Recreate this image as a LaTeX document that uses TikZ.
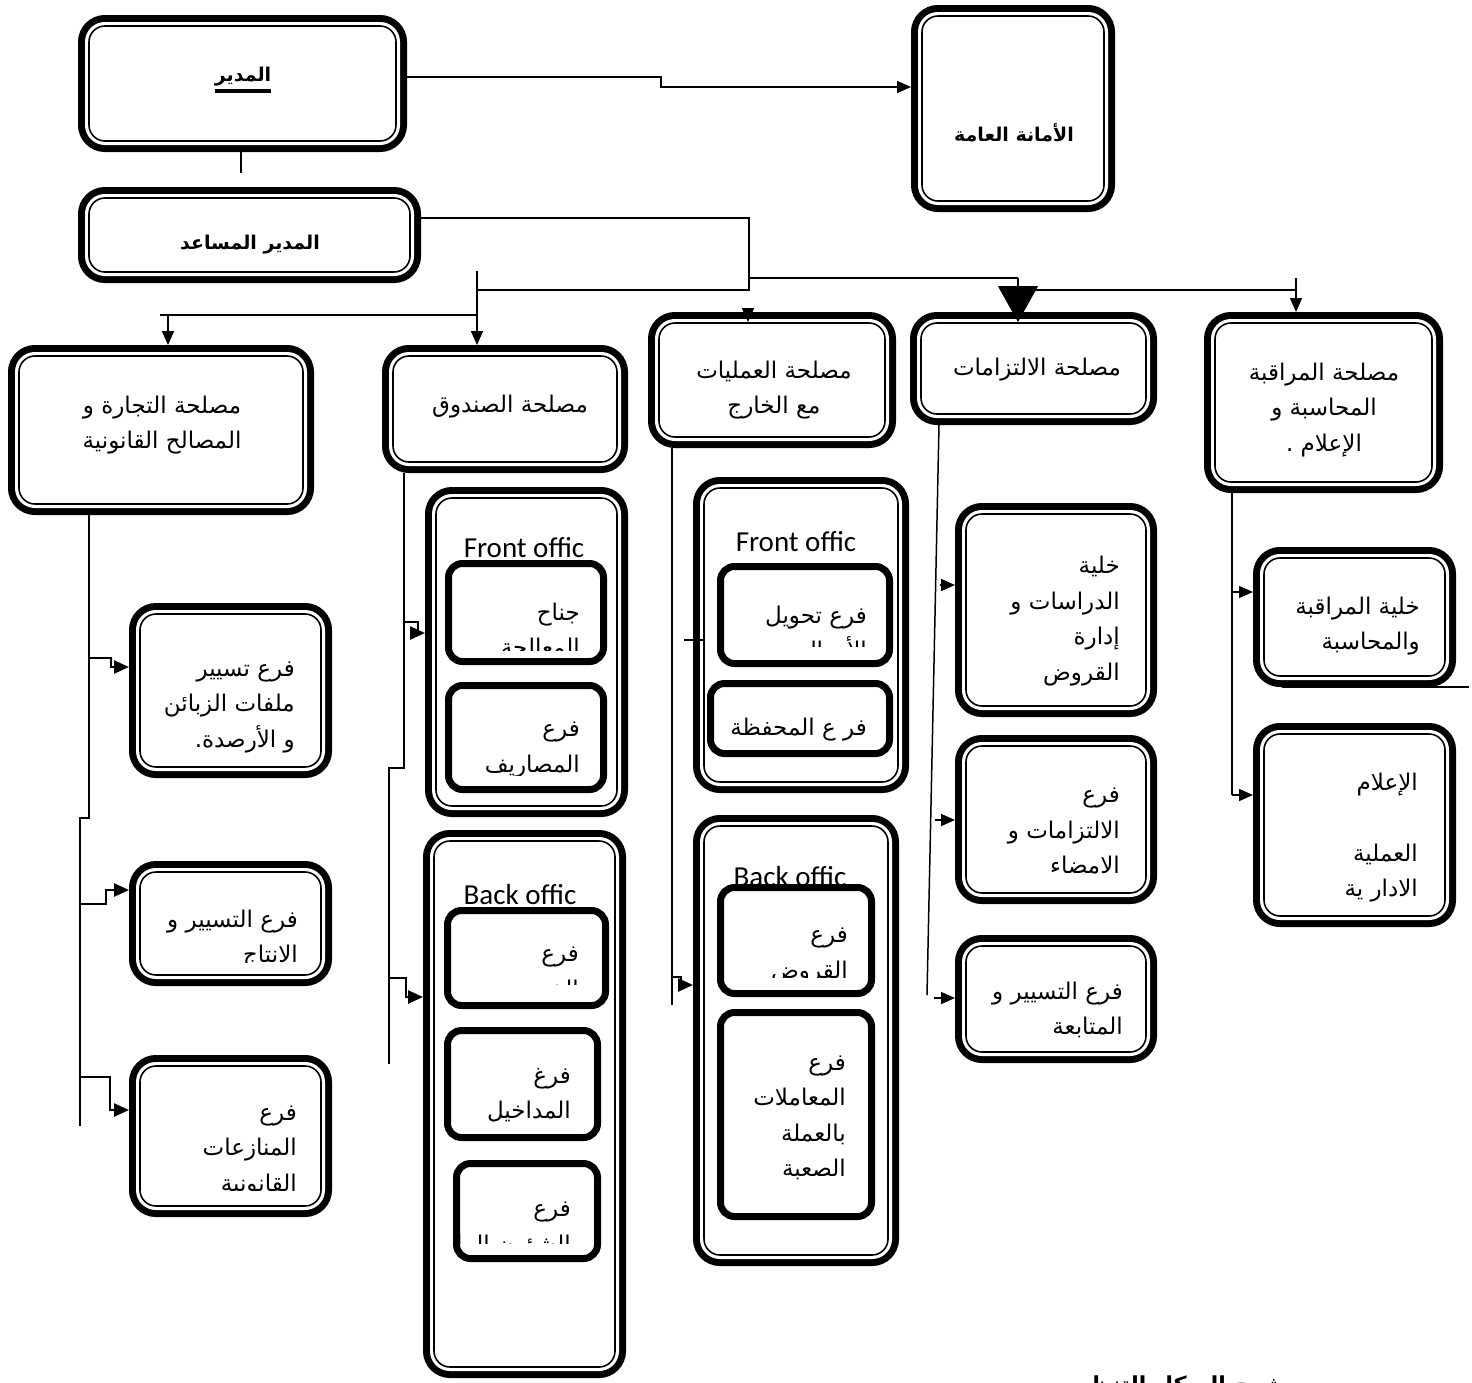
\documentclass[tikz,border=0pt]{standalone}
\usepackage{fontspec}
\newfontfamily\arabicfont[Script=Arabic]{DejaVu Sans}
\newfontfamily\latinfont{Carlito}
\TeXXeTstate=1
\usetikzlibrary{arrows.meta, calc}

\newcommand\ar[1]{\beginR #1\endR}
% box from its outer corners (px), inset = distance from outer edge to drawn path
\newcommand\placebox[7]{%
  \pgfmathsetmacro\boxw{#6-#4-2*#2}%
  \pgfmathsetmacro\boxh{#7-#5-2*#2}%
  \node[#1, minimum width=\boxw pt, minimum height=\boxh pt] (#3) at ({(#4+#6)/2},{(#5+#7)/2}) {};}

\tikzset{
  dbox/.style={draw, line width=1.6pt, fill=white, rounded corners=16pt, inner sep=0pt, outer sep=11pt,
    preaction={draw, line width=22pt},
    preaction={draw=white, line width=8pt}},
  sbox/.style={draw, line width=7pt, fill=white, rounded corners=14pt, inner sep=0pt, outer sep=3.5pt},
}

\begin{document}
\begin{tikzpicture}[x=1pt, y=-1pt,
  link/.style={line width=1.5pt},
  stepline/.style={line width=2.5pt, -{Triangle[length=15pt,width=13pt]}},
  tip/.style={line width=1.5pt, -{Triangle[length=14pt,width=12pt]}},
  bigtip/.style={line width=1.5pt, -{Triangle[length=36pt,width=40pt]}},
  artxt/.style={font=\arabicfont\fontsize{23}{35.5}\selectfont, inner sep=0pt, align=right},
  arctr/.style={artxt, align=center},
  arbold/.style={font=\arabicfont\bfseries\fontsize{19}{28}\selectfont, inner sep=0pt},
  lattxt/.style={font=\latinfont\fontsize{29}{34}\selectfont, inner sep=0pt}]
\clip (0,0) rectangle (1472,1382);

% top level
\placebox{dbox}{11}{director}{78}{15}{407}{152}
\node[arbold] (directortxt) at (243,77) {\ar{المدير}};
\draw[line width=3.5pt] (directortxt.west |- 0,91) -- (directortxt.east |- 0,91);
\placebox{dbox}{11}{secgen}{911}{5}{1115}{212}
\node[arbold] (secgentxt) at (1014,133) {\ar{الأمانة العامة}};
\placebox{dbox}{11}{assistant}{78}{187}{421}{283}
\node[arbold] (assistanttxt) at (250,245) {\ar{المدير المساعد}};

% services
\placebox{dbox}{11}{commerce}{8}{345}{314}{515}
\node[arctr] (commercetxt) at (162,425) {\ar{مصلحة التجارة و}\\\ar{المصالح القانونية}};
\placebox{dbox}{11}{fund}{382}{345}{628}{473}
\node[arctr] (fundtxt) at (510,407) {\ar{مصلحة الصندوق}};
\placebox{dbox}{11}{ops}{648}{312}{896}{448}
\node[arctr] (opstxt) at (774,390) {\ar{مصلحة العمليات}\\\ar{مع الخارج}};
\placebox{dbox}{11}{commit}{910}{312}{1157}{425}
\node[arctr] (committxt) at (1037,370) {\ar{مصلحة الالتزامات}};
\placebox{dbox}{11}{control}{1204}{312}{1443}{493}
\node[arctr] (controltxt) at (1324,410) {\ar{مصلحة المراقبة}\\\ar{المحاسبة و}\\\ar{الإعلام .}};

% commerce branches
\placebox{dbox}{11}{tasyir}{129}{603}{332}{778}
\node[artxt, anchor=east] (tasyirtxt) at (295,707) {\ar{فرع تسيير}\\\ar{ملفات الزبائن}\\\ar{و الأرصدة.}};
\placebox{dbox}{11}{intaj}{129}{861}{332}{986}
\begin{scope}
  \clip (intaj.north west) rectangle (intaj.east |- 0,962);
  \node[artxt, anchor=east] (intajtxt) at (298,939) {\ar{فرع التسيير و}\\\ar{الانتاج}};
\end{scope}
\placebox{dbox}{11}{munazaat}{129}{1055}{332}{1217}
\begin{scope}
  \clip (munazaat.north west) rectangle (munazaat.east |- 0,1190);
  \node[artxt, anchor=east] (munazaattxt) at (297,1151) {\ar{فرع}\\\ar{المنازعات}\\\ar{القانونية}};
\end{scope}

% fund: front office
\placebox{dbox}{11}{fundfront}{425}{487}{628}{817}
\node[lattxt] (fundfronttxt) at (524,548) {Front offic};
\placebox{sbox}{3.5}{jenah}{445}{560}{607}{665}
\begin{scope}
  \clip (jenah.north west) rectangle (jenah.east |- 0,650);
  \node[artxt, anchor=east] (jenahtxt) at (580,631) {\ar{جناح}\\\ar{المعالجة}};
\end{scope}
\placebox{sbox}{3.5}{masarif}{445}{682}{607}{793}
\begin{scope}
  \clip (masarif.north west) rectangle (masarif.east |- 0,775);
  \node[artxt, anchor=east] (masariftxt) at (580,750) {\ar{فرع}\\\ar{المصاريف}};
\end{scope}

% fund: back office
\placebox{dbox}{11}{fundback}{423}{830}{626}{1378}
\node[lattxt] (fundbacktxt) at (520,895) {Back offic};
\placebox{sbox}{3.5}{khazina}{444}{907}{609}{1009}
\begin{scope}
  \clip (khazina.north west) rectangle (khazina.east |- 0,984);
  \node[artxt, anchor=east] (khazinatxt) at (579,975) {\ar{فرع}\\\ar{الخزينة}};
\end{scope}
\placebox{sbox}{3.5}{madakhil}{444}{1027}{601}{1141}
\begin{scope}
  \clip (madakhil.north west) rectangle (madakhil.east |- 0,1122);
  \node[artxt, anchor=east] (madakhiltxt) at (571,1095) {\ar{فرغ}\\\ar{المداخيل}};
\end{scope}
\placebox{sbox}{3.5}{shuun}{453}{1160}{601}{1262}
\begin{scope}
  \clip (shuun.north west) rectangle (shuun.east |- 0,1243);
  \node[artxt, anchor=east] (shuuntxt) at (571,1230) {\ar{فرع}\\\ar{الشؤون المالية}};
\end{scope}

% operations: front office
\placebox{dbox}{11}{opsfront}{693}{477}{909}{793}
\node[lattxt] (opsfronttxt) at (796,542) {Front offic};
\placebox{sbox}{3.5}{tahwil}{717}{563}{893}{667}
\begin{scope}
  \clip (tahwil.north west) rectangle (tahwil.east |- 0,646);
  \node[artxt, anchor=east] (tahwiltxt) at (867,635) {\ar{فرع تحويل}\\\ar{الأموال}};
\end{scope}
\placebox{sbox}{3.5}{mahfaza}{707}{680}{893}{757}
\node[artxt, anchor=east] (mahfazatxt) at (867,730) {\ar{فر ع المحفظة}};

% operations: back office
\placebox{dbox}{11}{opsback}{693}{815}{899}{1266}
\node[lattxt] (opsbacktxt) at (790,877) {Back offic};
\placebox{sbox}{3.5}{kard}{717}{884}{875}{997}
\begin{scope}
  \clip (kard.north west) rectangle (kard.east |- 0,977);
  \node[artxt, anchor=east] (kardtxt) at (848,956) {\ar{فرع}\\\ar{القروض}};
\end{scope}
\placebox{sbox}{3.5}{muamalat}{717}{1009}{875}{1220}
\node[artxt, anchor=east] (muamalattxt) at (846,1118) {\ar{فرع}\\\ar{المعاملات}\\\ar{بالعملة}\\\ar{الصعبة}};

% commitments branches
\placebox{dbox}{11}{dirasat}{955}{503}{1157}{717}
\node[artxt, anchor=east] (dirasattxt) at (1120,621) {\ar{خلية}\\\ar{الدراسات و}\\\ar{إدارة}\\\ar{القروض}};
\placebox{dbox}{11}{iltizamat}{955}{735}{1157}{904}
\node[artxt, anchor=east] (iltizamattxt) at (1120,831) {\ar{فرع}\\\ar{الالتزامات و}\\\ar{الامضاء}};
\placebox{dbox}{11}{mutabaa}{955}{935}{1157}{1063}
\node[artxt, anchor=east] (mutabaatxt) at (1123,1010) {\ar{فرع التسيير و}\\\ar{المتابعة}};

% control branches
\placebox{dbox}{11}{raqaba}{1253}{547}{1456}{687}
\node[artxt, anchor=east] (raqabatxt) at (1420,626) {\ar{خلية المراقبة}\\\ar{والمحاسبة}};
\placebox{dbox}{11}{ilam}{1253}{723}{1456}{927}
\node[artxt, anchor=east] (ilamtxt) at (1418,838) {\ar{الإعلام}\\[35pt]\ar{العملية}\\\ar{الادار ية}};

\node[arbold, font=\arabicfont\bfseries\fontsize{22}{30}\selectfont] (title) at (1165,1387) {\ar{شرح الهيكل التنظيمي}};

% connectors: top
\draw[tip] (director.east |- 0,77) -- (661,77) -- (661,87) -- (secgen.west |- 0,87);
\coordinate (dirtick) at (241,173);
\draw[link] (director.south -| dirtick) -- (dirtick);
\draw[link] (assistant.east |- 0,218) -- (749,218) -- (749,290) -- (477,290);
\draw[tip] (477,271) -- (fund.north -| 477,0);
\draw[link] (477,315) -- (160,315);
\draw[tip] (168,315) -- (commerce.north -| 168,0);
\draw[link] (749,278) -- (1018,278);
\draw[bigtip] (1018,278) -- ([yshift=-10pt]commit.north -| 1018,0);
\draw[link] (1031,290) -- (1296,290);
\draw[tip] (1296,278) -- (control.north -| 1296,0);
\draw[tip] (748,310) -- ([yshift=-10pt]ops.north -| 748,0);

% connectors: commerce
\draw[link] (commerce.south -| 89,0) -- (89,818) -- (80,818) -- (80,1126);
\draw[stepline] (89,658) -- (111,658) -- (111,667) -- (tasyir.west |- 0,667);
\draw[stepline] (80,904) -- (106,904) -- (106,890) -- (intaj.west |- 0,890);
\draw[stepline] (80,1077) -- (110,1077) -- (110,1110) -- (munazaat.west |- 0,1110);

% connectors: fund
\draw[link] (fund.south -| 404,0) -- (404,768) -- (389,768) -- (389,1064);
\draw[stepline] (404,622) -- (418,622) -- (418,633) -- (fundfront.west |- 0,633);
\draw[stepline] (389,978) -- (406,978) -- (406,997) -- (fundback.west |- 0,997);

% connectors: operations
\draw[link] (ops.south -| 672,0) -- (672,1005);
\draw[stepline] (672,977) -- (681,977) -- (681,985) -- (opsback.west |- 0,985);
\draw[line width=2.5pt] ([xshift=-9pt]opsfront.west |- 0,640) -- ([xshift=11pt]opsfront.west |- 0,640);

% connectors: commitments
\draw[link] (commit.south -| 939,0) -- (927,995);
\draw[tip] (940,585) -- (dirasat.west |- 0,585);
\draw[tip] (935,820) -- (iltizamat.west |- 0,820);
\draw[tip] (934,998) -- (mutabaa.west |- 0,998);

% connectors: control
\draw[link] (control.south -| 1232,0) -- (1232,795);
\draw[tip] (1232,592) -- (raqaba.west |- 0,592);
\draw[tip] (1232,795) -- (ilam.west |- 0,795);
\draw[link] (1282,687) -- (1469,687);
\end{tikzpicture}
\end{document}
